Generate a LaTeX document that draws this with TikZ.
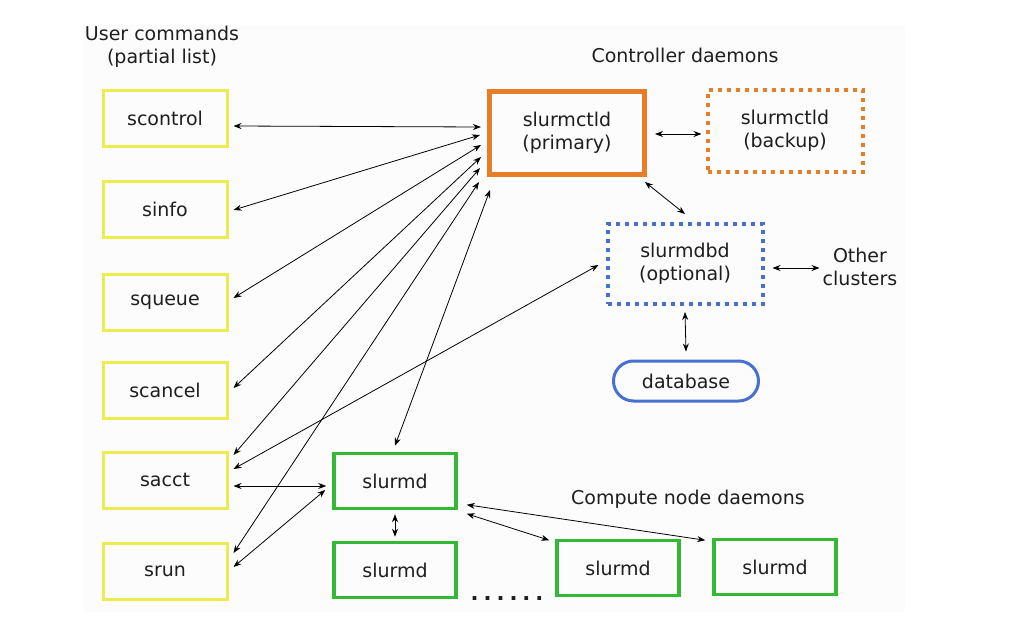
\documentclass[tikz,border=0pt]{standalone}
\usepackage{fontspec}
\setmainfont{DejaVu Sans}
\usetikzlibrary{arrows.meta}
\definecolor{yel}{RGB}{236,236,80}
\definecolor{grn}{RGB}{52,185,52}
\definecolor{org}{RGB}{232,125,40}
\definecolor{blu}{RGB}{72,112,208}
\definecolor{txt}{RGB}{30,30,30}
\definecolor{bgc}{RGB}{252,252,252}
\tikzset{
  lbl/.style={font=\fontsize{19}{23}\selectfont, text=txt, align=center, inner sep=0pt},
  cmd/.style={lbl, draw=yel, line width=3pt, minimum width=124pt, minimum height=56pt},
  dmn/.style={lbl, draw=grn, line width=3.5pt, minimum width=122pt, minimum height=55pt},
  ctl/.style={lbl, draw=org, line width=5pt, minimum width=155pt, minimum height=83pt},
  ctlbk/.style={lbl, draw=org, line width=4pt, dash pattern=on 4pt off 5pt, minimum width=155pt, minimum height=82pt},
  dbd/.style={lbl, draw=blu, line width=4pt, dash pattern=on 4pt off 5pt, minimum width=155pt, minimum height=80pt},
  dbase/.style={lbl, draw=blu, line width=3pt, rounded corners=20pt, minimum width=145pt, minimum height=40pt},
  arr/.style={{Stealth[length=8pt,width=6pt]}-{Stealth[length=8pt,width=6pt]}, line width=0.8pt, draw=black}
}
\begin{document}
\begin{tikzpicture}[x=1pt,y=-1pt]
\useasboundingbox (0,0) rectangle (1021,637);
\fill[bgc] (83,25) rectangle (905,612);

% headings
\node[lbl] (hUser) at (162,47) {User commands\\(partial list)};
\node[lbl] (hCtl) at (685,55) {Controller daemons};
\node[lbl] (hComp) at (688,499) {Compute node daemons};

% user commands
\node[cmd] (scontrol) at (165,118) {scontrol};
\node[cmd] (sinfo) at (165,209) {sinfo};
\node[cmd] (squeue) at (165,302) {squeue};
\node[cmd] (scancel) at (165,390) {scancel};
\node[cmd] (sacct) at (165,480) {sacct};
\node[cmd] (srun) at (165,571) {srun};

% controller daemons
\node[ctl] (primary) at (567,133) {slurmctld\\(primary)};
\node[ctlbk] (backup) at (785,131) {slurmctld\\(backup)};
\node[dbd] (slurmdbd) at (685,264) {slurmdbd\\(optional)};
\node[lbl] (other) at (860,267) {Other\\clusters};
\node[dbase] (database) at (686,381) {database};

% compute daemons
\node[dmn] (sd1) at (395,481) {slurmd};
\node[dmn] (sd2) at (395,570) {slurmd};
\node[dmn] (sd3) at (618,568) {slurmd};
\node[dmn] (sd4) at (775,567) {slurmd};
\node[lbl, font=\fontsize{21}{22}\selectfont\bfseries] (dots) at (507,599) {.\kern5pt.\kern5pt.\kern5pt.\kern5pt.\kern5pt.};

% commands <-> primary
\draw[arr] ([shift={(5pt,-8pt)}]scontrol.east) -- ([shift={(-6pt,6pt)}]primary.west);
\draw[arr] ([shift={(5pt,-1pt)}]sinfo.east) -- ([shift={(-7pt,-2pt)}]primary.west);
\draw[arr] ([shift={(5pt,4pt)}]squeue.east) -- ([shift={(-6pt,-12pt)}]primary.west);
\draw[arr] ([shift={(5pt,2pt)}]scancel.east) -- ([shift={(-6pt,-24pt)}]primary.west);
\draw[arr] ([shift={(5pt,25pt)}]sacct.east) -- ([shift={(-7pt,-35pt)}]primary.west);
\draw[arr] ([shift={(5pt,18pt)}]srun.east) -- ([shift={(-8pt,-49pt)}]primary.west);
\draw[arr] ([yshift=6pt]sd1.north) -- ([shift={(3pt,-13pt)}]primary.south west);

% sacct / srun
\draw[arr] ([shift={(5pt,11pt)}]sacct.east) -- ([shift={(-7pt,-1pt)}]slurmdbd.west);
\draw[arr] ([shift={(5pt,-6pt)}]sacct.east) -- ([shift={(-6pt,-5pt)}]sd1.west);
\draw[arr] ([shift={(5pt,4pt)}]srun.east) -- ([shift={(-7pt,-9pt)}]sd1.west);

% compute node links
\draw[arr] ([yshift=-4pt]sd1.south) -- ([yshift=4pt]sd2.north);
\draw[arr] ([shift={(9pt,5.5pt)}]sd1.south east) -- ([shift={(-7pt,-2.5pt)}]sd4.north west);
\draw[arr] ([shift={(9pt,-3.5pt)}]sd1.south east) -- ([shift={(-6pt,-1.5pt)}]sd3.north west);

% controller links
\draw[arr] ([shift={(8pt,-1pt)}]primary.east) -- ([shift={(-4pt,-3pt)}]backup.west);
\draw[arr] ([shift={(-2pt,-5pt)}]primary.south east) -- ([yshift=8pt]slurmdbd.north);
\draw[arr] ([shift={(8pt,-4pt)}]slurmdbd.east) -- ([shift={(-3pt,-1pt)}]other.west);
\draw[arr] ([yshift=-6pt]slurmdbd.south) -- ([yshift=8pt]database.north);
\end{tikzpicture}
\end{document}
